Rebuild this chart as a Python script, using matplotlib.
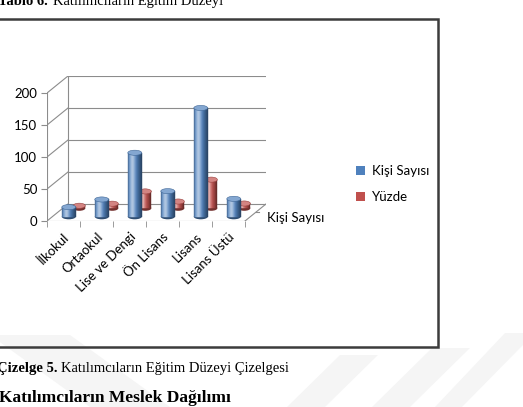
import numpy as np
import matplotlib.pyplot as plt
import matplotlib.colors as mcolors
from matplotlib.patches import Ellipse, Patch, Polygon, Rectangle

# data
categories = ["İlkokul", "Ortaokul", "Lise ve Dengi", "Ön Lisans", "Lisans", "Lisans Üstü"]
kisi_sayisi = [15, 27, 100, 40, 170, 28]
yuzde = [3.9, 7.1, 26.3, 10.5, 44.7, 7.4]
series_names = ["Kişi Sayısı", "Yüzde"]
y_ticks = [0, 50, 100, 150, 200]

W, H = 523, 407
fig = plt.figure(figsize=(W / 100, H / 100), dpi=100)
fig.patch.set_facecolor("white")


def fx(px):
    return px / W


def fy(py):
    return 1 - py / H


# faint watermark bands of the page
for pts in [[(-10, 335), (70, 335), (170, 407), (90, 407)],
            [(505, 333), (523, 333), (523, 345), (462, 407), (435, 407)],
            [(432, 348), (470, 348), (410, 407), (372, 407)],
            [(340, 355), (378, 355), (325, 407), (287, 407)]]:
    fig.patches.append(Polygon([(fx(a), fy(b)) for a, b in pts], closed=True,
                               transform=fig.transFigure, facecolor="#f5f5f5",
                               edgecolor="none", zorder=-5))

# document text around the chart (the top line is cut by the page crop)
serif = "Liberation Serif"
fig.text(fx(-2), fy(5), "Tablo 6.", fontsize=10.5, fontweight="bold", family=serif, va="baseline")
fig.text(fx(53), fy(5), "Katılımcıların Eğitim Düzeyi", fontsize=10.5, family=serif, va="baseline")
fig.text(fx(-3), fy(372), "Çizelge 5.", fontsize=10.5, fontweight="bold", family=serif, va="baseline")
fig.text(fx(61), fy(372), "Katılımcıların Eğitim Düzeyi Çizelgesi", fontsize=10.5, family=serif, va="baseline")
fig.text(fx(-1), fy(402), "Katılımcıların Meslek Dağılımı", fontsize=12.5, fontweight="bold",
         family=serif, va="baseline")

# chart frame
fig.patches.append(Rectangle((fx(-6), fy(347)), fx(444), fy(19) - fy(347), transform=fig.transFigure,
                             fill=False, edgecolor="#3c3c3c", linewidth=1.8, zorder=5))

# pseudo 3D column chart; depth offset in data units
DX, DY = 0.636, 26.6
GRID = "#8c8c8c"
font = "Lato"

ax = fig.add_axes([fx(47), fy(221), 219 / W, 145 / H])
ax.set_xlim(-0.5, 5.5 + DX)
ax.set_ylim(0, 200 + DY)
ax.patch.set_visible(False)
for sp in ax.spines.values():
    sp.set_visible(False)

x = np.arange(len(categories))

# walls and floor
for v in y_ticks:
    ax.plot([-0.5 + DX, 5.5 + DX], [v + DY, v + DY], color=GRID, lw=0.8, zorder=1)
    ax.plot([-0.5, -0.5 + DX], [v, v + DY], color=GRID, lw=0.8, zorder=1)
ax.plot([-0.5 + DX, -0.5 + DX], [DY, 200 + DY], color=GRID, lw=0.8, zorder=1)
ax.plot([-0.5, -0.5], [0, 200], color=GRID, lw=0.8, zorder=1)
ax.plot([-0.5, 5.5], [0, 0], color=GRID, lw=0.8, zorder=1)
ax.plot([5.5, 5.5 + DX], [0, DY], color=GRID, lw=0.8, zorder=1)
for f in [0.0, 0.5, 1.0]:
    ax.plot([5.5 + f * DX, 5.5 + f * DX + 0.12], [f * DY, f * DY], color=GRID, lw=0.8, zorder=1)

ax.set_yticks(y_ticks)
ax.tick_params(axis="y", length=4, color=GRID, labelsize=9.5, pad=3)
ax.set_xticks(x)
ax.set_xticks(np.arange(-0.5, 6, 1), minor=True)
ax.tick_params(axis="x", which="major", length=0, pad=7)
ax.tick_params(axis="x", which="minor", length=4, color=GRID)
ax.set_xticklabels(categories, rotation=45, ha="right", va="top", rotation_mode="anchor",
                   fontsize=9.5, family=font)
for lab in ax.get_yticklabels():
    lab.set_family(font)


def shade(base, t):
    rgb = np.array(mcolors.to_rgb(base))
    light = 0.55 * np.exp(-((t - 0.33) / 0.2) ** 2)
    dark = 0.5 * max(0.0, (t - 0.5) / 0.5) ** 1.3 + 0.3 * max(0.0, (0.12 - t) / 0.12)
    rgb = rgb * (1 - dark)
    return tuple(rgb + (1 - rgb) * light)


def cylinders(vals, base, depth, width, z):
    ox, oy = depth * DX, depth * DY
    n = 14
    sw = width / n
    cap_h = 8.0
    rgb = np.array(mcolors.to_rgb(base))
    for xi, v in zip(x, vals):
        cx = xi + ox
        ax.add_patch(Ellipse((cx, oy), width, cap_h, facecolor=tuple(rgb * 0.6),
                             edgecolor="none", zorder=z))
    for k in range(n):
        c = shade(base, (k + 0.5) / n)
        ax.bar(x + ox - width / 2 + k * sw, vals, width=sw, bottom=oy, align="edge",
               color=c, edgecolor=c, linewidth=0.3, zorder=z + 0.1)
    for xi, v in zip(x, vals):
        cx = xi + ox
        ax.add_patch(Ellipse((cx, v + oy), width, cap_h,
                             facecolor=tuple(rgb + (1 - rgb) * 0.3),
                             edgecolor=tuple(rgb * 0.8), linewidth=0.4, zorder=z + 0.2))


cylinders(yuzde, "#C0504D", 0.75, 0.37, 2)
cylinders(kisi_sayisi, "#4F81BD", 0.25, 0.42, 3)

# series (depth) axis label
ax.text(5.5 + DX + 0.03, 5, series_names[0], fontsize=9.5, family=font, ha="left", va="center")

handles = [Patch(facecolor="#4F81BD"), Patch(facecolor="#C0504D")]
fig.legend(handles, series_names, loc="center left", bbox_to_anchor=(fx(344), fy(184)),
           frameon=False, handlelength=0.7, handleheight=0.7, handletextpad=0.5,
           labelspacing=1.1, prop={"family": font, "size": 9.5})

fig.savefig("out.png", dpi=100)
